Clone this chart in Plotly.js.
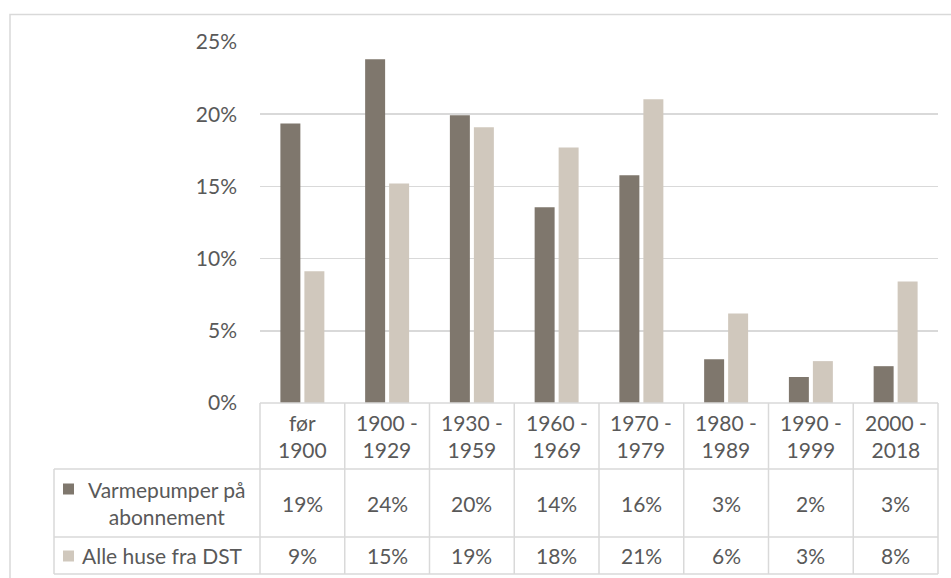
<!DOCTYPE html>
<html>
<head>
<meta charset="utf-8">
<script src="https://cdn.plot.ly/plotly-3.0.1.min.js"></script>
<style>
  html, body { margin: 0; padding: 0; background: #ffffff; }
  #chart { width: 951px; height: 578px; }
</style>
</head>
<body>
<div id="chart"></div>
<script>
// ---- data ----
const categories = ["før<br>1900", "1900 -<br>1929", "1930 -<br>1959", "1960 -<br>1969", "1970 -<br>1979", "1980 -<br>1989", "1990 -<br>1999", "2000 -<br>2018"];
const seriesNames = ["Varmepumper på<br>abonnement", "Alle huse fra DST"];
const varmepumper = [19.35, 23.8, 19.93, 13.55, 15.77, 3.03, 1.8, 2.55];
const alleHuse = [9.12, 15.2, 19.1, 17.7, 21.04, 6.2, 2.9, 8.42];
const yTicks = [0, 5, 10, 15, 20, 25];
const yTickLabels = ["0%", "5%", "10%", "15%", "20%", "25%"];

// ---- style ----
const colors = ["#7f776d", "#d0c8bd"];
const textColor = "#595959";
const lineColor = "#d9d9d9";
const fontFamily = "Lato, 'Open Sans', sans-serif";
const fontSize = 21;

// ---- layout geometry (pixels) ----
const W = 951, H = 578;
const plotL = 260, plotR = 938, plotT = 42, plotB = 403;
const pw = plotR - plotL, ph = plotB - plotT;
const px = v => (v - plotL) / pw;        // pixel x -> paper
const py = v => (plotB - v) / ph;        // pixel y -> paper
const rowY = [403, 469, 537, 574];
const tableLeft = 54;
const n = categories.length;
const catX = i => i / n;                  // paper x of category boundary

const xIdx = categories.map((c, i) => i);

const traces = [
  { type: "bar", x: xIdx, y: varmepumper, name: seriesNames[0], marker: { color: colors[0] }, hoverinfo: "y" },
  { type: "bar", x: xIdx, y: alleHuse, name: seriesNames[1], marker: { color: colors[1] }, hoverinfo: "y" }
];

const shapes = [];
const line = (x0, y0, x1, y1) => shapes.push({ type: "line", xref: "paper", yref: "paper", x0, y0, x1, y1, line: { color: lineColor, width: 1.5 } });

// outer chart border
shapes.push({ type: "rect", xref: "paper", yref: "paper", x0: px(10), x1: px(W + 20), y0: py(14.5), y1: py(H + 20), line: { color: lineColor, width: 1.5 }, fillcolor: "rgba(0,0,0,0)", layer: "below" });

// table horizontal lines
line(0, py(rowY[0]), 1, py(rowY[0]));
for (let r = 1; r < rowY.length; r++) line(px(tableLeft), py(rowY[r]), 1, py(rowY[r]));
// table vertical lines
for (let i = 0; i <= n; i++) line(catX(i), py(rowY[0]), catX(i), py(rowY[3]));
line(px(tableLeft), py(rowY[1]), px(tableLeft), py(rowY[3]));

// legend swatches
const swY = [489, 556];
swY.forEach((y, k) => {
  shapes.push({ type: "rect", xref: "paper", yref: "paper", x0: px(63), x1: px(74), y0: py(y - 5.5), y1: py(y + 5.5), line: { width: 0 }, fillcolor: colors[k] });
});

const annotations = [];
const font = { family: fontFamily, size: fontSize, color: textColor };
const rowMid = r => py((rowY[r] + rowY[r + 1]) / 2);

categories.forEach((c, i) => {
  annotations.push({ xref: "x", yref: "paper", x: i, y: rowMid(0), text: c, showarrow: false, font, align: "center", xanchor: "center", yanchor: "middle" });
  annotations.push({ xref: "x", yref: "paper", x: i, y: rowMid(1), text: Math.round(varmepumper[i]) + "%", showarrow: false, font, xanchor: "center", yanchor: "middle" });
  annotations.push({ xref: "x", yref: "paper", x: i, y: rowMid(2), text: Math.round(alleHuse[i]) + "%", showarrow: false, font, xanchor: "center", yanchor: "middle" });
});
annotations.push({ xref: "paper", yref: "paper", x: px(167), y: rowMid(1), text: seriesNames[0], showarrow: false, font, align: "center", xanchor: "center", yanchor: "middle" });
annotations.push({ xref: "paper", yref: "paper", x: px(80), y: rowMid(2), text: seriesNames[1], showarrow: false, font, align: "left", xanchor: "left", yanchor: "middle" });

const layout = {
  width: W, height: H,
  margin: { l: plotL, r: W - plotR, t: plotT, b: H - plotB, pad: 0 },
  paper_bgcolor: "#ffffff", plot_bgcolor: "#ffffff",
  showlegend: false,
  barmode: "group",
  bargap: 0.434,
  bargroupgap: 0.167,
  font: { family: fontFamily, size: fontSize, color: textColor },
  xaxis: { range: [-0.5, n - 0.5], showticklabels: false, showgrid: false, zeroline: false, showline: false, ticks: "", fixedrange: true },
  yaxis: { range: [0, 25], tickvals: yTicks, ticktext: yTickLabels, showgrid: true, gridcolor: lineColor, gridwidth: 1.5, zeroline: false, showline: false, ticks: "", ticklabelstandoff: 22, tickfont: { family: fontFamily, size: fontSize, color: textColor }, fixedrange: true },
  shapes, annotations
};

Plotly.newPlot("chart", traces, layout, { displayModeBar: false, staticPlot: true });
</script>
</body>
</html>
